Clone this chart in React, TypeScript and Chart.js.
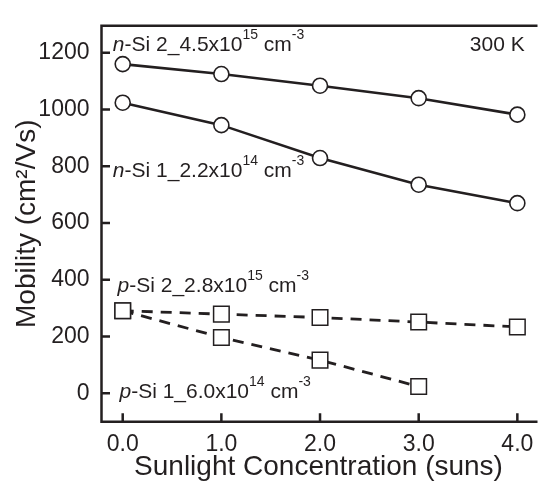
import React, { useEffect, useRef } from "react";
import { Chart, registerables } from "chart.js";

Chart.register(...registerables);

// ---- data ----
const suns = [0, 1, 2, 3, 4];
const nSi2 = [1160, 1125, 1084, 1040, 982];
const nSi1 = [1024, 945, 829, 735, 670];
const pSi2 = [291, 279, 267, 251, 234];
const pSi1 = [291, 197, 117, 24];

const xTicks = [0, 1, 2, 3, 4];
const xTickLabels = ["0.0", "1.0", "2.0", "3.0", "4.0"];
const yTicks = [0, 200, 400, 600, 800, 1000, 1200];
const yTickLabels = ["0", "200", "400", "600", "800", "1000", "1200"];

const xTitle = "Sunlight Concentration (suns)";
const yTitle = "Mobility (cm\u00B2/Vs)";

type Part = { t: string; italic?: boolean; sup?: boolean };
const labelTexts: Part[][] = [
  [{ t: "n", italic: true }, { t: "-Si 2_4.5x10" }, { t: "15", sup: true }, { t: " cm" }, { t: "-3", sup: true }],
  [{ t: "n", italic: true }, { t: "-Si 1_2.2x10" }, { t: "14", sup: true }, { t: " cm" }, { t: "-3", sup: true }],
  [{ t: "p", italic: true }, { t: "-Si 2_2.8x10" }, { t: "15", sup: true }, { t: " cm" }, { t: "-3", sup: true }],
  [{ t: "p", italic: true }, { t: "-Si 1_6.0x10" }, { t: "14", sup: true }, { t: " cm" }, { t: "-3", sup: true }],
];
// anchor positions in data coordinates (left, baseline)
const labelAnchors = [
  { x: -0.1, y: 1207 },
  { x: -0.1, y: 762 },
  { x: -0.052, y: 358 },
  { x: -0.033, y: -16 },
];
const tempLabel = "300 K";
const tempAnchor = { x: 4.075, y: 1207 };

const INK = "#231f20";
const FONT = "'Liberation Sans', Arial, Helvetica, sans-serif";

function pts(ys: number[]) {
  return ys.map((v, i) => ({ x: suns[i], y: v }));
}

const overlayPlugin = {
  id: "overlay",
  afterDraw(chart: any) {
    const { ctx, chartArea } = chart;
    const xs = chart.scales.x;
    const ys = chart.scales.y;
    const { left, right, top, bottom } = chartArea;
    ctx.save();
    ctx.strokeStyle = INK;
    ctx.lineWidth = 2.5;
    ctx.lineCap = "butt";
    ctx.beginPath();
    ctx.moveTo(left, bottom);
    ctx.lineTo(left, top);
    ctx.lineTo(right + 2, top);
    ctx.moveTo(left - 1.25, bottom);
    ctx.lineTo(right + 2, bottom);
    // inward ticks
    for (const v of yTicks) {
      const py = ys.getPixelForValue(v);
      ctx.moveTo(left, py);
      ctx.lineTo(left + 8.5, py);
    }
    for (const v of xTicks) {
      const px = xs.getPixelForValue(v);
      ctx.moveTo(px, bottom);
      ctx.lineTo(px, bottom - 8.5);
    }
    ctx.stroke();

    // labels
    ctx.fillStyle = INK;
    ctx.textBaseline = "alphabetic";
    ctx.textAlign = "left";
    const size = 21;
    const supSize = 14;
    const raise = 12;
    labelTexts.forEach((parts, i) => {
      let cx = xs.getPixelForValue(labelAnchors[i].x);
      const by = ys.getPixelForValue(labelAnchors[i].y);
      for (const p of parts) {
        const fs = p.sup ? supSize : size;
        ctx.font = `${p.italic ? "italic " : ""}${fs}px ${FONT}`;
        ctx.fillText(p.t, cx, p.sup ? by - raise : by);
        cx += ctx.measureText(p.t).width;
      }
    });
    ctx.font = `${size}px ${FONT}`;
    ctx.textAlign = "right";
    ctx.fillText(tempLabel, xs.getPixelForValue(tempAnchor.x), ys.getPixelForValue(tempAnchor.y));
    ctx.restore();
  },
};

export default function App() {
  const ref = useRef<HTMLCanvasElement | null>(null);
  useEffect(() => {
    if (!ref.current) return;
    const circle = {
      pointStyle: "circle",
      pointRadius: 7.5,
      pointBackgroundColor: "#ffffff",
      pointBorderColor: INK,
      pointBorderWidth: 1.6,
      borderColor: INK,
      borderWidth: 2.6,
    };
    const square = {
      pointStyle: "rect",
      pointRadius: 11,
      pointBackgroundColor: "#ffffff",
      pointBorderColor: INK,
      pointBorderWidth: 1.5,
      borderColor: INK,
      borderWidth: 2.8,
      borderDash: [11, 8],
    };
    const chart = new Chart(ref.current, {
      type: "line",
      data: {
        datasets: [
          { label: "n-Si 2", data: pts(nSi2), ...circle },
          { label: "n-Si 1", data: pts(nSi1), ...circle },
          { label: "p-Si 2", data: pts(pSi2), ...square },
          { label: "p-Si 1", data: pts(pSi1), ...square },
        ] as any,
      },
      options: {
        animation: false,
        responsive: false,
        clip: false as any,
        layout: { padding: { top: 11, right: 0, bottom: 0, left: 0 } },
        plugins: { legend: { display: false }, tooltip: { enabled: false } },
        elements: { line: { tension: 0 } },
        scales: {
          x: {
            type: "linear",
            min: -0.215,
            max: 4.184,
            grid: { display: false, drawTicks: false },
            border: { display: false },
            afterBuildTicks: (s: any) => {
              s.ticks = xTicks.map((v) => ({ value: v }));
            },
            afterFit: (s: any) => {
              s.height = 62.3;
            },
            ticks: {
              color: INK,
              font: { family: FONT, size: 23 },
              padding: 9,
              maxRotation: 0,
              autoSkip: false,
              callback: (v: any) => xTickLabels[xTicks.indexOf(Number(v))] ?? "",
            },
            title: {
              display: true,
              text: xTitle,
              color: INK,
              font: { family: FONT, size: 28 },
              padding: { top: 0, bottom: 0 },
            },
          },
          y: {
            type: "linear",
            min: -100,
            max: 1295,
            grid: { display: false, drawTicks: false },
            border: { display: false },
            afterBuildTicks: (s: any) => {
              s.ticks = yTicks.map((v) => ({ value: v }));
            },
            afterFit: (s: any) => {
              s.width = 101.5;
            },
            ticks: {
              color: INK,
              font: { family: FONT, size: 23 },
              padding: 12,
              autoSkip: false,
              callback: (v: any) => yTickLabels[yTicks.indexOf(Number(v))] ?? "",
            },
            title: {
              display: true,
              text: yTitle,
              color: INK,
              font: { family: FONT, size: 28 },
              padding: { top: 10, bottom: 0 },
            },
          },
        },
      },
      plugins: [overlayPlugin],
    } as any);
    return () => chart.destroy();
  }, []);
  return (
    <div style={{ position: "fixed", left: 0, top: 0, width: 548, height: 484, overflow: "hidden", background: "#fff" }}>
      <canvas ref={ref} width={548} height={484} style={{ width: 548, height: 484, display: "block" }} />
    </div>
  );
}
